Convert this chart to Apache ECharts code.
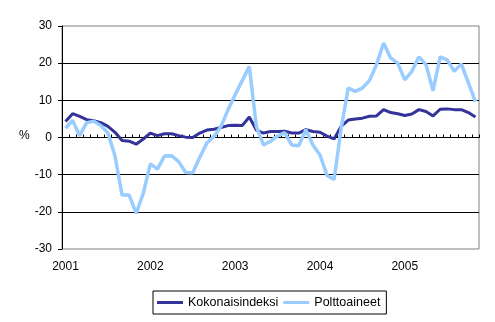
<!DOCTYPE html>
<html>
<head>
<meta charset="utf-8">
<script src="https://cdn.jsdelivr.net/npm/echarts@6/dist/echarts.min.js"></script>
<style>
html,body{margin:0;padding:0;background:#fff;}
#chart{width:495px;height:322px;}
</style>
</head>
<body>
<div id="chart"></div>
<script>
const months = [
  "2001-01","2001-02","2001-03","2001-04","2001-05","2001-06","2001-07","2001-08","2001-09","2001-10","2001-11","2001-12",
  "2002-01","2002-02","2002-03","2002-04","2002-05","2002-06","2002-07","2002-08","2002-09","2002-10","2002-11","2002-12",
  "2003-01","2003-02","2003-03","2003-04","2003-05","2003-06","2003-07","2003-08","2003-09","2003-10","2003-11","2003-12",
  "2004-01","2004-02","2004-03","2004-04","2004-05","2004-06","2004-07","2004-08","2004-09","2004-10","2004-11","2004-12",
  "2005-01","2005-02","2005-03","2005-04","2005-05","2005-06","2005-07","2005-08","2005-09","2005-10","2005-11"
];
const kokonaisindeksi = [
  4.3, 6.4, 5.7, 4.8, 4.5, 4.0, 3.0, 1.4, -0.8, -1.0, -1.8, -0.4,
  1.2, 0.5, 1.0, 1.0, 0.5, 0.1, 0.0, 1.2, 2.0, 2.2, 2.7, 3.2,
  3.3, 3.2, 5.5, 2.0, 1.2, 1.6, 1.6, 1.7, 1.2, 1.2, 2.1, 1.6,
  1.4, 0.4, -0.4, 3.0, 4.7, 5.0, 5.2, 5.7, 5.8, 7.5, 6.7, 6.4,
  5.9, 6.3, 7.5, 7.0, 5.8, 7.6, 7.7, 7.5, 7.5, 6.7, 5.5
];
const polttoaineet = [
  2.5, 4.6, 0.5, 4.0, 4.4, 3.2, 1.2, -5.0, -15.5, -15.5, -20.4, -15.0,
  -7.1, -8.5, -5.0, -4.9, -6.5, -9.4, -9.5, -5.3, -1.5, 0.3, 3.0, 7.5,
  11.5, 15.3, 19.1, 3.0, -2.0, -1.0, 0.4, 1.3, -2.0, -2.2, 2.1, -2.0,
  -4.7, -10.2, -11.3, 2.5, 13.3, 12.4, 13.3, 15.3, 19.6, 25.4, 21.4, 20.0,
  15.5, 17.8, 21.7, 19.6, 12.6, 21.7, 20.9, 17.8, 19.8, 14.7, 9.6
];
const seriesNames = ["Kokonaisindeksi", "Polttoaineet"];
const yTicks = { min: -30, max: 30, step: 10 };
const unitLabel = "%";

const FONT = 'Arial, "Liberation Sans", sans-serif';
const chart = echarts.init(document.getElementById('chart'), null, { renderer: 'canvas' });
chart.setOption({
  animation: false,
  backgroundColor: '#ffffff',
  textStyle: { fontFamily: FONT },
  grid: { left: 62, right: 16, top: 26, bottom: 73, show: true, borderColor: '#808080', borderWidth: 1, backgroundColor: 'transparent' },
  xAxis: {
    type: 'category',
    data: months,
    boundaryGap: true,
    axisLine: { lineStyle: { color: '#000', width: 1 } },
    axisTick: { show: true, inside: true, length: 3, interval: 0, lineStyle: { color: '#000' } },
    axisLabel: {
      interval: function (idx) { return idx % 12 === 0; },
      formatter: function (v) { return v.slice(0, 4); },
      color: '#000', fontSize: 12, fontFamily: FONT, margin: 12
    },
    splitLine: { show: false }
  },
  yAxis: {
    type: 'value',
    min: yTicks.min, max: yTicks.max, interval: yTicks.step,
    axisLine: { show: true, lineStyle: { color: '#000', width: 1 } },
    axisTick: { show: true, length: 4, lineStyle: { color: '#000' } },
    axisLabel: { color: '#000', fontSize: 12, fontFamily: FONT, margin: 10 },
    splitLine: { show: true, showMaxLine: false, showMinLine: false, lineStyle: { color: '#000', width: 1 } }
  },
  graphic: [{
    type: 'text', left: 19, top: 130,
    style: { text: unitLabel, fill: '#000', font: '12px ' + FONT }
  }],
  legend: {
    left: 153, top: 291,
    padding: [5, 6, 5, 4],
    itemGap: 5,
    itemWidth: 26, itemHeight: 3,
    icon: 'rect',
    borderColor: '#000', borderWidth: 1,
    textStyle: { color: '#000', fontSize: 12.5, fontFamily: FONT },
    data: seriesNames
  },
  series: [
    {
      name: seriesNames[0], type: 'line', data: kokonaisindeksi,
      showSymbol: false, symbol: 'none',
      lineStyle: { color: '#333399', width: 3 }, itemStyle: { color: '#333399' }, z: 2
    },
    {
      name: seriesNames[1], type: 'line', data: polttoaineet,
      showSymbol: false, symbol: 'none',
      lineStyle: { color: '#99ccff', width: 3.5 }, itemStyle: { color: '#99ccff' }, z: 3
    }
  ]
});
</script>
</body>
</html>
